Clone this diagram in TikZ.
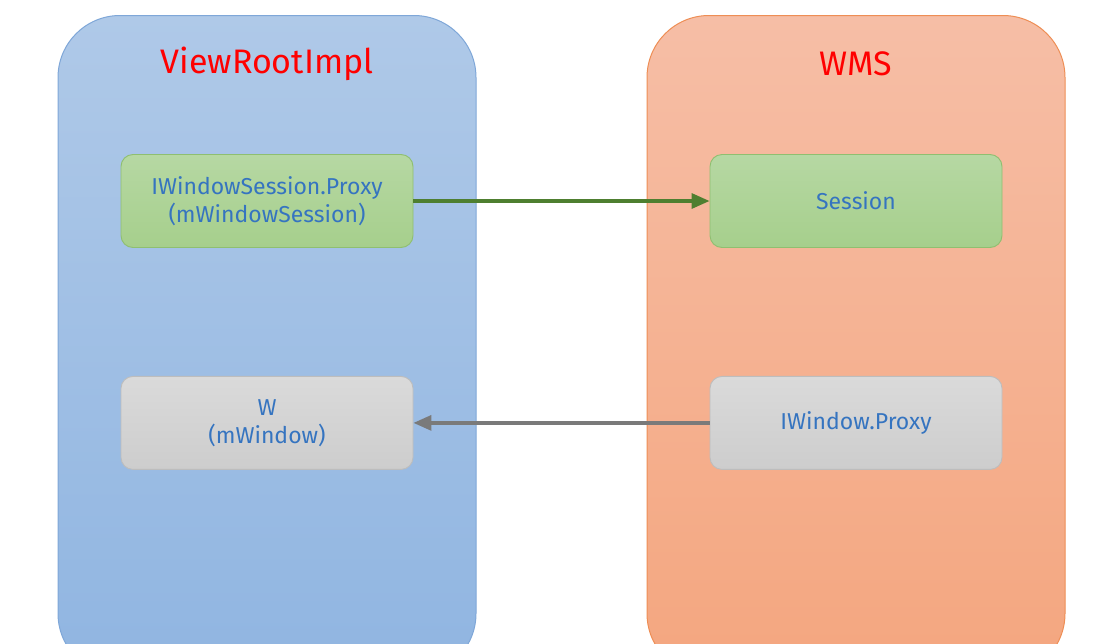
\documentclass[tikz,border=0pt]{standalone}
\usepackage{fontspec}
\setmainfont{Fira Sans}
\usetikzlibrary{arrows.meta,positioning}
\definecolor{vrtop}{HTML}{AFC9E8}
\definecolor{vrbot}{HTML}{90B5E1}
\definecolor{vredge}{HTML}{7FA7D8}
\definecolor{wmtop}{HTML}{F6BEA6}
\definecolor{wmbot}{HTML}{F4A67F}
\definecolor{wmedge}{HTML}{EE8E55}
\definecolor{grtop}{HTML}{B6D8A3}
\definecolor{grbot}{HTML}{A6CF8C}
\definecolor{gredge}{HTML}{8FBF70}
\definecolor{gytop}{HTML}{DADADA}
\definecolor{gybot}{HTML}{CDCDCD}
\definecolor{gyedge}{HTML}{BDBDBD}
\definecolor{txtblue}{HTML}{3574C0}
\definecolor{argreen}{HTML}{4E7F30}
\definecolor{argray}{HTML}{7A7A7A}

\begin{document}
\begin{tikzpicture}[
  x=1pt,y=-1pt,
  node distance=128pt,
  panel/.style={rectangle,rounded corners=62pt,line width=1pt,
                minimum width=418pt,minimum height=660pt,anchor=north},
  ttl/.style  ={font=\fontsize{34}{40}\selectfont,text=red},
  gbox/.style ={rectangle,draw=gredge,top color=grtop,bottom color=grbot,
                rounded corners=12pt,line width=0.9pt,
                minimum width=292pt,minimum height=93pt,
                font=\fontsize{23}{28}\selectfont,text=txtblue,align=center},
  ybox/.style ={gbox,draw=gyedge,top color=gytop,bottom color=gybot},
  arg/.style  ={-{Triangle[length=18pt,width=15pt]},line width=3.2pt,color=argreen},
  ary/.style  ={-{Triangle[length=18pt,width=15pt]},line width=3.2pt,color=argray}
]
\useasboundingbox (0,0) rectangle (1117,643);
\clip (0,0) rectangle (1117,643);
% containers
\node[panel,draw=vredge,top color=vrtop,bottom color=vrbot] (vri) at (267,15) {};
\node[panel,draw=wmedge,top color=wmtop,bottom color=wmbot] (wms) at (856,15) {};
\node[ttl] (vrit) at (267,64) {ViewRootImpl};
\node[ttl] (wmst) at (856,64) {WMS};
% binder objects
\node[gbox] (isp)  at (267,201) {IWindowSession.Proxy\\(mWindowSession)};
\node[gbox] (sess) at (856,201) {Session};
\node[ybox,below=of isp]  (w)   {W\\(mWindow)};
\node[ybox,below=of sess] (iwp) {IWindow.Proxy};
\draw[arg] (isp) -- (sess);
\draw[ary] (iwp) -- (w);
\end{tikzpicture}
\end{document}
